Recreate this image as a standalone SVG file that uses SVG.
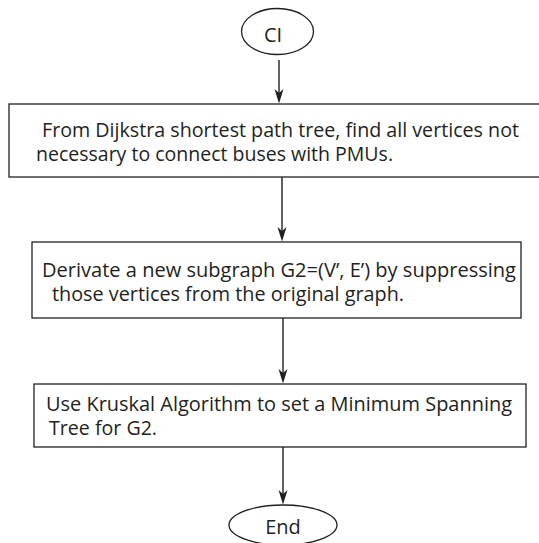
<svg xmlns="http://www.w3.org/2000/svg" width="539" height="543" viewBox="0 0 539 543">
  <defs>
    <style>
      .shape { fill: #ffffff; stroke: #231f20; stroke-width: 1.3; }
      .txt { font-family: "Open Sans", "Noto Sans", sans-serif; font-size: 20px; fill: #231f20; }
      .conn { stroke: #231f20; stroke-width: 1.4; fill: none; }
      .head { fill: #231f20; }
    </style>
  </defs>
  <rect width="539" height="543" fill="#ffffff"/>

  <g id="connectors">
    <line class="conn" x1="279" y1="60" x2="279" y2="100"/>
    <line class="conn" x1="282" y1="177" x2="282" y2="238"/>
    <line class="conn" x1="283" y1="318" x2="283" y2="380"/>
    <line class="conn" x1="283" y1="447" x2="283" y2="501"/>
    <path class="head" d="M274.5,89 L279,103.5 L283.5,89 L279,93 Z"/>
    <path class="head" d="M277.5,227 L282,241.5 L286.5,227 L282,231 Z"/>
    <path class="head" d="M278.5,369 L283,383.5 L287.5,369 L283,373 Z"/>
    <path class="head" d="M278.5,490 L283,504.5 L287.5,490 L283,494 Z"/>
  </g>

  <g id="node-ci">
    <ellipse class="shape" cx="277.5" cy="31.5" rx="36" ry="23"/>
    <text class="txt" x="273" y="42" text-anchor="middle">CI</text>
  </g>

  <g id="node-dijkstra">
    <rect class="shape" x="9" y="104" width="540" height="73"/>
    <text class="txt" x="42" y="137" textLength="477" lengthAdjust="spacingAndGlyphs">From Dijkstra shortest path tree, find all vertices not</text>
    <text class="txt" x="36" y="161" textLength="357" lengthAdjust="spacingAndGlyphs">necessary to connect buses with PMUs.</text>
  </g>

  <g id="node-subgraph">
    <rect class="shape" x="32" y="242" width="489" height="76"/>
    <text class="txt" x="42" y="277" textLength="474" lengthAdjust="spacingAndGlyphs">Derivate a new subgraph G2=(V’, E’) by suppressing</text>
    <text class="txt" x="52" y="301" textLength="352" lengthAdjust="spacingAndGlyphs">those vertices from the original graph.</text>
  </g>

  <g id="node-kruskal">
    <rect class="shape" x="34" y="384" width="492" height="63"/>
    <text class="txt" x="46" y="411" textLength="466" lengthAdjust="spacingAndGlyphs">Use Kruskal Algorithm to set a Minimum Spanning</text>
    <text class="txt" x="49" y="435" textLength="108" lengthAdjust="spacingAndGlyphs">Tree for G2.</text>
  </g>

  <g id="node-end">
    <ellipse class="shape" cx="283" cy="525" rx="54" ry="20"/>
    <text class="txt" x="283" y="534" text-anchor="middle">End</text>
  </g>
</svg>
